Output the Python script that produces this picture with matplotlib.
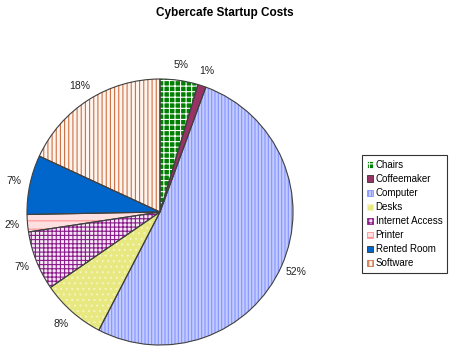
import matplotlib
matplotlib.use("Agg")
import matplotlib.pyplot as plt
from matplotlib.patches import Patch

plt.rcParams['font.family'] = ['Liberation Sans', 'DejaVu Sans']
plt.rcParams['hatch.linewidth'] = 0.8

categories = ["Chairs", "Coffeemaker", "Computer", "Desks", "Internet Access",
              "Printer", "Rented Room", "Software"]
values = [4.6, 1.0, 52.0, 7.8, 7.2, 2.1, 7.2, 18.1]

faces = ["#008000", "#993366", "#c4ccff", "#e8e880", "#f4e8f4", "#ffe0e0", "#0066cc", "#fff4ee"]
hatch_cols = ["#ffffff", "#993366", "#8494ff", "#f4f4c0", "#8a1a8a", "#ff9090", "#0066cc", "#cc7044"]
hatches = ["+++", None, "|||||", "...", "++++", "--", None, "||||"]

fig = plt.figure(figsize=(4.5, 3.54), dpi=100)
fig.patch.set_facecolor("white")
ax = fig.add_axes([27/450, 9/354, 266/450, 266/354])

wedges, _, autotexts = ax.pie(values, startangle=90, counterclock=False,
                              autopct='%.0f%%', pctdistance=1.12,
                              textprops=dict(fontsize=7.5, color="#222222"),
                              radius=1.0)
for w, fc, hc, h in zip(wedges, faces, hatch_cols, hatches):
    w.set_facecolor(fc)
    w.set_edgecolor(hc)
    w.set_linewidth(0)
    if h:
        w.set_hatch(h)

ax.pie(values, startangle=90, counterclock=False, radius=1.0,
       wedgeprops=dict(facecolor="none", edgecolor="#404040", linewidth=0.8))
ax.set_xlim(-1, 1)
ax.set_ylim(-1, 1)
ax.set_aspect('equal')
ax.axis('off')

fig.text(0.5, 1 - 13/354, "Cybercafe Startup Costs", ha='center', va='center',
         fontsize=8.5, fontweight='bold')

handles = [Patch(facecolor=fc, edgecolor=hc if h else "#333333", hatch=h, linewidth=0.6)
           for fc, hc, h in zip(faces, hatch_cols, hatches)]
leg = fig.legend(handles, categories, loc='upper left',
                 bbox_to_anchor=(362/450, 1 - 155/354),
                 fontsize=7, frameon=True, fancybox=False, edgecolor="black",
                 handlelength=0.6, handleheight=0.6, handletextpad=0.3,
                 labelspacing=0.42, borderpad=0.5, borderaxespad=0)
leg.get_frame().set_linewidth(0.8)

fig.savefig("out.png", dpi=100)
